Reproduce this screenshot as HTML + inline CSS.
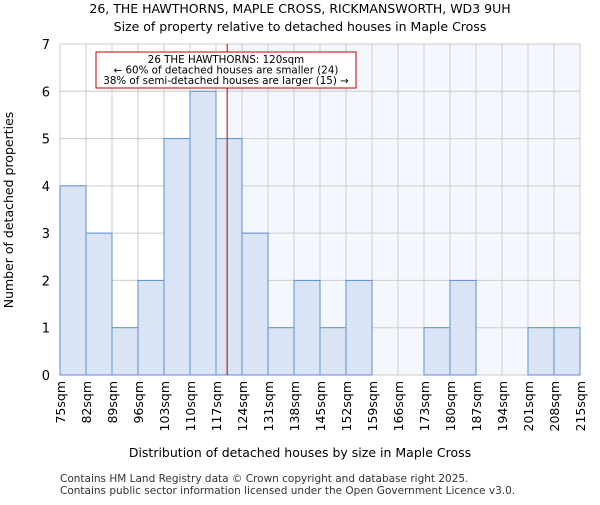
<!DOCTYPE html>
<html><head><meta charset="utf-8"><style>
body{margin:0;background:#fff;font-family:"Liberation Sans","DejaVu Sans",sans-serif}
text{font-family:"DejaVu Sans","Liberation Sans",sans-serif}
</style></head><body>
<svg id="c" width="600" height="500" xmlns="http://www.w3.org/2000/svg">
<text x="300" y="13" text-anchor="middle" font-size="12.5">26, THE HAWTHORNS, MAPLE CROSS, RICKMANSWORTH, WD3 9UH</text>
<text x="300" y="31" text-anchor="middle" font-size="12.5">Size of property relative to detached houses in Maple Cross</text>
<g id="plot"></g>
<text x="300" y="457" text-anchor="middle" font-size="12.5">Distribution of detached houses by size in Maple Cross</text>
<text transform="translate(13,210) rotate(-90)" text-anchor="middle" font-size="12.5">Number of detached properties</text>
<text x="60" y="482" font-size="10.5" fill="#333">Contains HM Land Registry data © Crown copyright and database right 2025.</text>
<text x="60" y="494" font-size="10.5" fill="#333">Contains public sector information licensed under the Open Government Licence v3.0.</text>
</svg>
<script>
const binStarts=[75,82,89,96,103,110,117,124,131,138,145,152,159,166,173,180,187,194,201,208];
const counts=[4,3,1,2,5,6,5,3,1,2,1,2,0,0,1,2,0,0,1,1];
const xTicks=[75,82,89,96,103,110,117,124,131,138,145,152,159,166,173,180,187,194,201,208,215];
const yTicks=[0,1,2,3,4,5,6,7];
const subjectSize=120;
const L=60,R=580,T=44,B=375,X0=75,X1=215,YMAX=7;
const xs=v=>L+(v-X0)/(X1-X0)*(R-L);
const ys=v=>B-v/YMAX*(B-T);
const NS="http://www.w3.org/2000/svg";
const g=document.getElementById('plot');
function mk(t,a){const e=document.createElementNS(NS,t);for(const k in a)e.setAttribute(k,a[k]);g.appendChild(e);return e;}
let e=mk('rect',{x:xs(subjectSize),y:T,width:R-xs(subjectSize),height:B-T,fill:'#f4f7fd'});


yTicks.forEach(v=>{const l=mk('line',{x1:L,x2:R,y1:ys(v),y2:ys(v),stroke:'#cccccc'});


const t=mk('text',{x:L-10,y:ys(v)+5,'text-anchor':'end','font-size':'13'});t.textContent=v;

});
xTicks.forEach(v=>{const l=mk('line',{x1:xs(v),x2:xs(v),y1:T,y2:B,stroke:'#cccccc'});


const t=mk('text',{transform:`translate(${xs(v)+5},${B+6}) rotate(-90)`,'text-anchor':'end','font-size':'12.5'});t.textContent=v+'sqm';

});
binStarts.forEach((s,i)=>{if(!counts[i])return;const w=xs(s+7)-xs(s);
const r=mk('rect',{x:xs(s),y:ys(counts[i]),width:w,height:B-ys(counts[i]),fill:'#dae4f4',stroke:'#5b8ed6','stroke-width':1});

});
e=mk('line',{x1:xs(subjectSize),x2:xs(subjectSize),y1:T,y2:B,stroke:'#aa0000','stroke-width':1});


e=mk('rect',{x:96,y:52,width:260,height:36,fill:'#fff',stroke:'#cc0000'});


['26 THE HAWTHORNS: 120sqm','← 60% of detached houses are smaller (24)','38% of semi-detached houses are larger (15) →'].forEach((s,i)=>{
const t=mk('text',{x:226,y:63+i*10.5,'text-anchor':'middle','font-size':'10.3'});t.textContent=s;

});
</script>
</body></html>
